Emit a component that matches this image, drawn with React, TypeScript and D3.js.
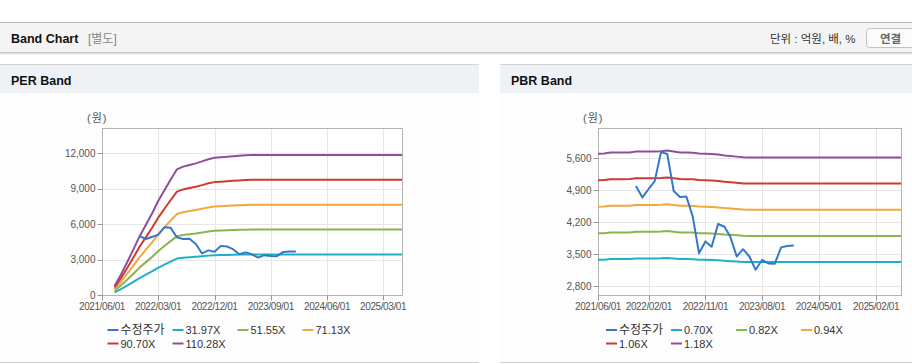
import React from 'react';
import * as d3 from 'd3';

// ---------- data ----------
const perMultiples = [31.97, 51.55, 71.13, 90.7, 110.28];
const pbrMultiples = [0.7, 0.82, 0.94, 1.06, 1.18];
const perLabels = ['31.97X', '51.55X', '71.13X', '90.70X', '110.28X'];
const pbrLabels = ['0.70X', '0.82X', '0.94X', '1.06X', '1.18X'];

// monthly EPS (원) from 2021/08 to 2025/06
const epsStart = '2021-08-01';
const epsMonthly = [
  7, 15.5, 25, 35, 45, 54, 63, 72, 80.5, 88.5, 96.5, 98.6, 99.9, 101.1, 102.6, 104.3, 105.4,
  105.8, 106.2, 106.6, 107.0, 107.3, 107.5,
  107.5, 107.5, 107.5, 107.5, 107.5, 107.5, 107.5, 107.5, 107.5, 107.5, 107.5, 107.5,
  107.5, 107.5, 107.5, 107.5, 107.5, 107.5, 107.5, 107.5, 107.5, 107.5, 107.5, 107.5,
];

// monthly BPS (원) from 2021/06 to 2025/06
const bpsStart = '2021-06-01';
const bpsMonthly = [
  4825, 4830, 4848, 4848, 4848, 4850, 4866, 4868, 4868, 4868, 4872, 4884, 4868, 4850, 4848,
  4845, 4830, 4825, 4822, 4810, 4795, 4785, 4772, 4760,
  4757, 4757, 4757, 4757, 4757, 4757, 4757, 4757, 4757, 4757, 4757, 4757, 4757,
  4757, 4757, 4757, 4757, 4757, 4757, 4757, 4757, 4757, 4757, 4757, 4757,
];

// 수정주가 monthly from 2021/12 to 2024/01
const priceStart = '2021-12-01';
const priceMonthly = [
  4990, 4740, 4930, 5090, 5730, 5690, 4880, 4750, 4760, 4320, 3520, 3780, 3665, 4160, 4100,
  3880, 3450, 3610, 3450, 3160, 3375, 3300, 3290, 3650, 3680, 3690,
];

const perYTicks = [0, 3000, 6000, 9000, 12000];
const pbrYTicks = [2800, 3500, 4200, 4900, 5600];
const perXTicks = ['2021/06/01', '2022/03/01', '2022/12/01', '2023/09/01', '2024/06/01', '2025/03/01'];
const pbrXTicks = ['2021/06/01', '2022/02/01', '2022/11/01', '2023/08/01', '2024/05/01', '2025/02/01'];

const priceLabel = '수정주가';
const xDomain = ['2021-06-01', '2025-06-01'];

// ---------- styles ----------
const FONT = "'Liberation Sans', Arial, 'Noto Sans CJK KR', sans-serif";
const PRICE_COLOR = '#3577c9';
const BAND_COLORS = ['#1db0c6', '#8cb350', '#f4a73b', '#cc3a30', '#8e4f9a'];

type Pt = { d: Date; v: number };

const parse = (s: string) => new Date(s.replace(/\//g, '-') + 'T00:00:00');

function monthly(start: string, vals: number[]): Pt[] {
  const s = parse(start);
  return vals.map((v, i) => ({ d: d3.timeMonth.offset(s, i), v }));
}

type PanelProps = {
  x0: number;
  title: string;
  plot: { left: number; right: number; top: number; bottom: number };
  yDomain: [number, number];
  yTicks: number[];
  xTicks: string[];
  base: Pt[];
  multiples: number[];
  labels: string[];
  legendX: number;
};

function Panel(p: PanelProps) {
  const { plot } = p;
  const x = d3
    .scaleTime()
    .domain([parse(xDomain[0]), parse(xDomain[1])])
    .range([plot.left, plot.right]);
  const y = d3.scaleLinear().domain(p.yDomain).range([plot.bottom, plot.top]);
  const line = d3
    .line<Pt>()
    .x((d) => x(d.d))
    .y((d) => y(d.v));
  const price = monthly(priceStart, priceMonthly);
  const bands = p.multiples.map((m) => p.base.map((b) => ({ d: b.d, v: b.v * m })));
  const fmt = d3.format(',');
  const bl = Math.round(plot.left) + 0.5;
  const br = Math.round(plot.right) + 0.5;
  const bt = Math.round(plot.top) + 0.5;
  const bb = Math.round(plot.bottom) + 0.5;

  const legendItems = [
    { label: priceLabel, color: PRICE_COLOR, size: 12 },
    ...p.labels.map((l, i) => ({ label: l, color: BAND_COLORS[i], size: 11 })),
  ];

  return (
    <g>
      {/* panel frame */}
      <rect x={p.x0} y={64} width={479} height={1} fill="#d5d5d5" />
      <rect x={p.x0} y={65} width={479} height={28} fill="#eef2f7" />
      <rect x={p.x0} y={93} width={479} height={269} fill="#fdfdfd" />
      <rect x={p.x0} y={362} width={479} height={1} fill="#d0d0d0" />
      <text x={p.x0 + 11} y={85} fontFamily={FONT} fontSize={12.5} fontWeight="bold" fill="#111">
        {p.title}
      </text>

      {/* unit */}
      <text x={plot.left - 15} y={122} fontFamily={FONT} fontSize={11} letterSpacing={1} fill="#555">
        (원)
      </text>

      {/* plot background and grid */}
      <rect x={bl} y={bt} width={br - bl} height={bb - bt} fill="#ffffff" />
      {p.yTicks.map((t) => (
        <line key={'gy' + t} x1={bl} x2={br} y1={Math.round(y(t)) + 0.5} y2={Math.round(y(t)) + 0.5} stroke="#e6e6e6" />
      ))}
      {p.xTicks.map((t) => (
        <line key={'gx' + t} x1={Math.round(x(parse(t))) + 0.5} x2={Math.round(x(parse(t))) + 0.5} y1={bt} y2={bb} stroke="#e6e6e6" />
      ))}
      <rect x={bl} y={bt} width={br - bl} height={bb - bt} fill="none" stroke="#b3b3b3" />

      {/* y axis */}
      {p.yTicks.map((t) => (
        <g key={'ty' + t}>
          <line x1={bl - 5} x2={bl} y1={Math.round(y(t)) + 0.5} y2={Math.round(y(t)) + 0.5} stroke="#999" />
          <text x={bl - 7} y={y(t) + 3.5} textAnchor="end" fontFamily={FONT} fontSize={10} fill="#555">
            {fmt(t)}
          </text>
        </g>
      ))}
      {/* x axis */}
      {p.xTicks.map((t) => (
        <g key={'tx' + t}>
          <line x1={Math.round(x(parse(t))) + 0.5} x2={Math.round(x(parse(t))) + 0.5} y1={bb} y2={bb + 5} stroke="#999" />
          <text x={x(parse(t))} y={310} textAnchor="middle" fontFamily={FONT} fontSize={10} letterSpacing={-0.4} fill="#555">
            {t}
          </text>
        </g>
      ))}

      {/* series */}
      {bands.map((b, i) => (
        <path key={'b' + i} d={line(b) || ''} fill="none" stroke={BAND_COLORS[i]} strokeWidth={2} strokeLinejoin="round" />
      ))}
      <path d={line(price) || ''} fill="none" stroke={PRICE_COLOR} strokeWidth={2} strokeLinejoin="round" />

      {/* legend */}
      {legendItems.map((it, i) => {
        const col = i % 4;
        const row = Math.floor(i / 4);
        const lx = p.legendX + col * 65;
        const ly = 330 + row * 13.5;
        return (
          <g key={'lg' + i}>
            <line x1={lx} x2={lx + 11} y1={ly} y2={ly} stroke={it.color} strokeWidth={2} />
            <text x={lx + 13} y={ly + 4} fontFamily={FONT} fontSize={it.size} fill="#333">
              {it.label}
            </text>
          </g>
        );
      })}
    </g>
  );
}

export default function App() {
  const perBase = monthly(epsStart, epsMonthly);
  const pbrBase = monthly(bpsStart, bpsMonthly);
  return (
    <svg
      width={912}
      height={364}
      viewBox="0 0 912 364"
      style={{ position: 'absolute', left: 0, top: 0, display: 'block', background: '#fff' }}
    >
      {/* top bar */}
      <rect x={0} y={22} width={912} height={1} fill="#b7b7b7" />
      <rect x={0} y={23} width={912} height={29} fill="#f4f4f4" />
      <rect x={0} y={52} width={912} height={1} fill="#c4c4c4" />
      <rect x={0} y={53} width={912} height={1} fill="#e4e4e4" />
      <rect x={0} y={54} width={912} height={1} fill="#f1f1f1" />
      <text x={11} y={43} fontFamily={FONT} fontSize={12.5} fontWeight="bold" fill="#111">
        Band Chart
      </text>
      <text x={88} y={43} fontFamily={FONT} fontSize={12} fill="#888">
        [별도]
      </text>
      <text x={770} y={43} fontFamily={FONT} fontSize={11.5} fill="#333">
        단위 : 억원, 배, %
      </text>
      <rect x={866.5} y={28.5} width={60} height={19} rx={3} fill="#fbfbfb" stroke="#c2c2c2" />
      <text x={880} y={42.5} fontFamily={FONT} fontSize={11.5} fontWeight="bold" fill="#666">
        연결
      </text>

      <Panel
        x0={0}
        title="PER Band"
        plot={{ left: 102, right: 402, top: 128, bottom: 295 }}
        yDomain={[0, 14143]}
        yTicks={perYTicks}
        xTicks={perXTicks}
        base={perBase}
        multiples={perMultiples}
        labels={perLabels}
        legendX={107.5}
      />
      <Panel
        x0={500}
        title="PBR Band"
        plot={{ left: 598, right: 901, top: 128, bottom: 295 }}
        yDomain={[2610, 6256]}
        yTicks={pbrYTicks}
        xTicks={pbrXTicks}
        base={pbrBase}
        multiples={pbrMultiples}
        labels={pbrLabels}
        legendX={606}
      />
    </svg>
  );
}
